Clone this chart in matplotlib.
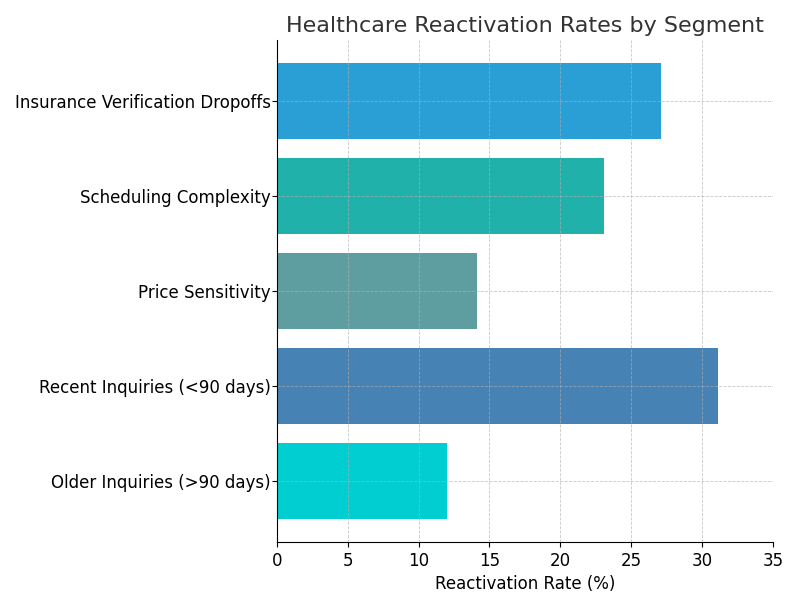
import matplotlib
matplotlib.use("Agg")
import matplotlib.pyplot as plt

categories = ["Insurance Verification Dropoffs", "Scheduling Complexity", "Price Sensitivity",
              "Recent Inquiries (<90 days)", "Older Inquiries (>90 days)"]
values = [27.1, 23.1, 14.1, 31.1, 12.0]
colors = ["#2a9fd6", "#20b2aa", "#5f9ea0", "#4682b4", "#00ced1"]

fig, ax = plt.subplots(figsize=(8, 6), dpi=100)
y = list(range(len(categories)))[::-1]
ax.barh(y, values, color=colors, height=0.8, zorder=1)
ax.set_yticks(y)
ax.set_yticklabels(categories, fontsize=12)
ax.set_xlim(0, 35)
ax.set_xticks(range(0, 36, 5))
ax.tick_params(axis='x', labelsize=12)
ax.tick_params(axis='y', pad=1)
ax.set_xlabel("Reactivation Rate (%)", fontsize=12)
ax.set_title("Healthcare Reactivation Rates by Segment", fontsize=16, color="#333333")
ax.grid(True, linestyle="--", linewidth=0.6, color="#b0b0b0", alpha=0.7, zorder=2)
ax.set_axisbelow(False)
for s in ["left", "bottom"]:
    ax.spines[s].set_zorder(3)
ax.spines["top"].set_visible(False)
ax.spines["right"].set_visible(False)
fig.subplots_adjust(left=0.346, right=0.966, top=0.933, bottom=0.097)
fig.savefig("out.png", dpi=100)
